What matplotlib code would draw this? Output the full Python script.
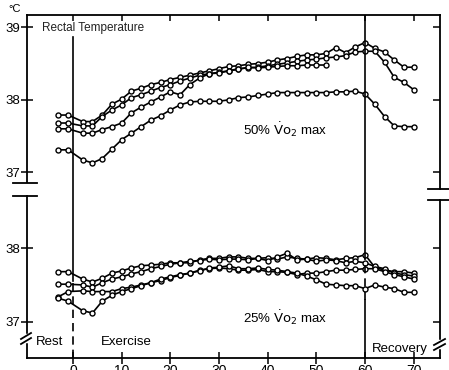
import matplotlib
matplotlib.use("Agg")
import matplotlib.pyplot as plt
from matplotlib.lines import Line2D

W_PX, H_PX = 449, 370

# minutes relative to start of exercise
minutes = [-3, -1, 2, 4, 6, 8, 10, 12, 14, 16, 18, 20, 22, 24, 26, 28, 30, 32,
           34, 36, 38, 40, 42, 44, 46, 48, 50, 52, 54, 56, 58, 60,
           62, 64, 66, 68, 70]

# 50% VO2max, rectal temperature (deg C), four subjects
s50_a = [37.79, 37.79, 37.70, 37.70, 37.79, 37.94, 38.01, 38.12, 38.16, 38.21,
         38.24, 38.28, 38.31, 38.34, 38.37, 38.40, 38.43, 38.46, 38.47, 38.49,
         38.50, 38.52, 38.55, 38.57, 38.60, 38.62, 38.62, 38.64, 38.72, 38.65,
         38.73, 38.79, 38.71, 38.66, 38.55, 38.45, 38.45]
s50_b = [37.68, 37.68, 37.64, 37.64, 37.77, 37.86, 37.93, 38.03, 38.07, 38.12,
         38.17, 38.21, 38.26, 38.30, 38.34, 38.36, 38.38, 38.40, 38.43, 38.44,
         38.45, 38.47, 38.49, 38.51, 38.53, 38.55, 38.56, 38.58, 38.59, 38.61,
         38.66, 38.67, 38.67, 38.52, 38.31, 38.24, 38.14]
s50_c = [37.60, 37.60, 37.54, 37.54, 37.59, 37.63, 37.68, 37.82, 37.90, 37.97,
         38.04, 38.11, 38.07, 38.21, 38.30, 38.36, 38.37, 38.40, 38.42, 38.45,
         38.44, 38.45, 38.46, 38.47, 38.47, 38.48, 38.48, 38.48]
s50_d = [37.31, 37.31, 37.17, 37.13, 37.19, 37.32, 37.45, 37.54, 37.63, 37.72,
         37.78, 37.86, 37.93, 37.97, 37.98, 37.98, 37.98, 38.00, 38.03, 38.04,
         38.06, 38.08, 38.10, 38.10, 38.10, 38.10, 38.10, 38.10, 38.11, 38.11,
         38.12, 38.08, 37.94, 37.77, 37.64, 37.63, 37.63]

# 25% VO2max
s25_a = [37.68, 37.68, 37.58, 37.54, 37.59, 37.66, 37.69, 37.73, 37.76, 37.77,
         37.78, 37.80, 37.80, 37.80, 37.84, 37.86, 37.86, 37.88, 37.88, 37.86,
         37.86, 37.87, 37.85, 37.88, 37.86, 37.85, 37.87, 37.86, 37.84, 37.86,
         37.87, 37.91, 37.74, 37.70, 37.68, 37.68, 37.66]
s25_b = [37.51, 37.51, 37.50, 37.47, 37.53, 37.58, 37.61, 37.65, 37.68, 37.72,
         37.75, 37.78, 37.80, 37.82, 37.83, 37.85, 37.84, 37.85, 37.85, 37.84,
         37.86, 37.83, 37.88, 37.93, 37.84, 37.85, 37.82, 37.84, 37.83, 37.80,
         37.82, 37.80, 37.75, 37.72, 37.66, 37.64, 37.62]
s25_c = [37.34, 37.41, 37.42, 37.41, 37.41, 37.41, 37.45, 37.47, 37.50, 37.53,
         37.56, 37.60, 37.63, 37.66, 37.70, 37.72, 37.73, 37.72, 37.70, 37.70,
         37.71, 37.68, 37.68, 37.67, 37.64, 37.66, 37.66, 37.68, 37.70, 37.70,
         37.71, 37.72, 37.72, 37.68, 37.64, 37.61, 37.58]
s25_d = [37.32, 37.28, 37.15, 37.12, 37.28, 37.36, 37.41, 37.45, 37.49, 37.53,
         37.58, 37.61, 37.64, 37.66, 37.69, 37.73, 37.74, 37.76, 37.72, 37.72,
         37.73, 37.71, 37.70, 37.68, 37.66, 37.62, 37.57, 37.51, 37.50, 37.49,
         37.49, 37.45, 37.50, 37.47, 37.45, 37.40, 37.40]

x_ticks = [0, 10, 20, 30, 40, 50, 60, 70]

plt.rcParams.update({
    "font.family": ["Liberation Sans", "DejaVu Sans"],
    "font.size": 9.5,
    "axes.linewidth": 1.3,
})

fig = plt.figure(figsize=(W_PX / 100, H_PX / 100), dpi=100)


def px_rect(x0, y0, x1, y1):
    return [x0 / W_PX, 1 - y1 / H_PX, (x1 - x0) / W_PX, (y1 - y0) / H_PX]


def fig_line(xs, ys, **kw):
    kw.setdefault("color", "black")
    kw.setdefault("lw", 1.3)
    fig.add_artist(Line2D([x / W_PX for x in xs], [1 - y / H_PX for y in ys],
                          transform=fig.transFigure, **kw))


def fig_text(x, y, s, **kw):
    fig.text(x / W_PX, 1 - y / H_PX, s, **kw)


ax_top = fig.add_axes(px_rect(27, 15, 440, 189))
ax_bot = fig.add_axes(px_rect(27, 189, 440, 358))

line_kw = dict(color="black", lw=1.2, marker="o", markersize=3.6,
               markerfacecolor="white", markeredgecolor="black", mew=1.0)

for series in (s50_a, s50_b, s50_c, s50_d):
    ax_top.plot(minutes[:len(series)], series, **line_kw)
for series in (s25_a, s25_b, s25_c, s25_d):
    ax_bot.plot(minutes[:len(series)], series, **line_kw)

for ax in (ax_top, ax_bot):
    ax.set_xlim(-9.45, 75.4)
    ax.patch.set_alpha(0)

ax_top.set_ylim(36.77, 39.17)
ax_top.set_yticks([37, 38, 39])
ax_top.set_xticks(x_ticks)
ax_top.tick_params(axis="x", bottom=False, labelbottom=False, top=True,
                   direction="in", length=4, width=1.1)
ax_top.tick_params(axis="y", left=True, right=True, direction="inout",
                   length=8, width=1.1, pad=1)
ax_top.tick_params(axis="y", which="major", right=True)
ax_top.spines["bottom"].set_visible(False)
ax_top.spines["left"].set_bounds(36.86, 39.17)

ax_bot.set_ylim(36.51, 38.80)
ax_bot.set_yticks([37, 38])
ax_bot.set_xticks(x_ticks)
ax_bot.set_xticklabels([str(v) for v in x_ticks], fontsize=10)
ax_bot.tick_params(axis="x", bottom=True, direction="inout", length=8,
                   width=1.1, pad=0)
ax_bot.tick_params(axis="y", left=True, right=True, direction="inout",
                   length=8, width=1.1, pad=1)
ax_bot.spines["top"].set_visible(False)
ax_bot.spines["left"].set_bounds(36.51, 38.70)
ax_bot.spines["right"].set_bounds(36.51, 38.65)

# right-hand ticks point inward only
for ax in (ax_top, ax_bot):
    for t in ax.yaxis.get_major_ticks():
        t.tick2line.set_marker(0)
        t.tick2line.set_markersize(5)

# rest / exercise and exercise / recovery markers
ax_top.plot([0, 0], [36.77, 38.87], color="black", lw=1.2)
ax_bot.plot([0, 0], [37.55, 38.80], color="black", lw=1.2)
ax_bot.plot([0, 0], [36.51, 37.55], color="black", lw=1.2, ls=(0, (5, 3)))
ax_top.plot([60, 60], [36.77, 39.17], color="black", lw=1.2)
ax_bot.plot([60, 60], [37.86, 38.80], color="black", lw=1.2)
ax_bot.plot([60, 60], [37.30, 37.86], color="black", lw=1.2, ls=(0, (5, 3)))
ax_bot.plot([60, 60], [36.51, 37.30], color="black", lw=1.2)

# axis break marks
fig_line([13, 37], [183, 183])
fig_line([13, 37], [196, 196])
fig_line([428, 449], [189, 189])
fig_line([428, 449], [200, 200])
fig_line([27, 27], [335, 341], color="white", lw=2.5)
fig_line([21, 31], [339, 333])
fig_line([21, 31], [344, 338])
fig_line([440, 440], [341, 347], color="white", lw=2.5)
fig_line([434, 445], [345, 339])
fig_line([434, 445], [350, 344])

# annotations
fig_text(8, 9, "°C", fontsize=8, va="center")
fig_text(42, 28, "Rectal Temperature", fontsize=8.5, va="center", color="#222")
fig_text(243, 130, r"50% $\dot{\mathrm{V}}\mathrm{o}_2$ max", fontsize=9.5,
         va="center")
fig_text(243, 318, r"25% $\dot{\mathrm{V}}\mathrm{o}_2$ max", fontsize=9.5,
         va="center")
fig_text(36, 342, "Rest", fontsize=9.5, va="center")
fig_text(101, 342, "Exercise", fontsize=9.5, va="center")
fig_text(372, 349, "Recovery", fontsize=9.5, va="center")

fig.savefig("out.png", dpi=100)
